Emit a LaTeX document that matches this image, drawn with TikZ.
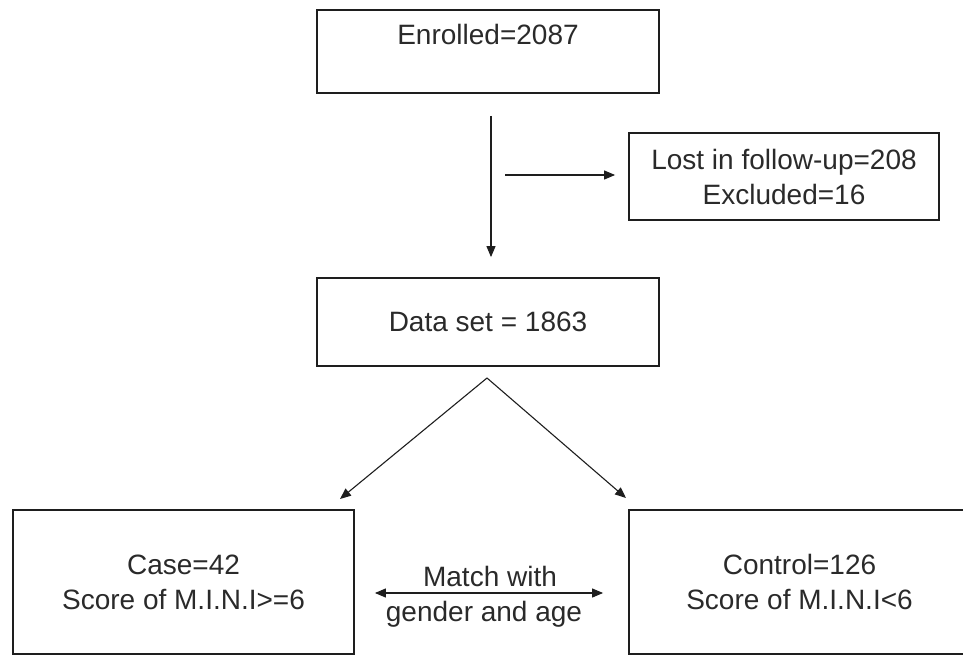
\documentclass[tikz,border=0pt]{standalone}
\usepackage{fontspec}
\setmainfont{Liberation Sans}
\usetikzlibrary{arrows.meta}
\definecolor{ink}{HTML}{1E1E1E}
\definecolor{txt}{HTML}{2A2A2A}
\begin{document}
\begin{tikzpicture}[x=1pt,y=-1pt,
  box/.style={draw=ink, line width=1.8pt, inner sep=0pt, align=center,
    font=\fontsize{28}{35}\selectfont, text=txt},
  lbl/.style={inner sep=0pt, font=\fontsize{28}{35}\selectfont, text=txt},
  arr/.style={line width=1.1pt, draw=ink, -{Triangle[length=11pt,width=9pt]}},
  darr/.style={line width=1.1pt, draw=ink, {Triangle[length=11pt,width=9pt]}-{Triangle[length=11pt,width=9pt]}}]
\useasboundingbox (0,0) rectangle (963,656);
% boxes
\node[box, minimum width=342pt, minimum height=83pt] (enr) at (488,51.5) {Enrolled=2087\\\mbox{}};
\node[box, minimum width=310pt, minimum height=87pt] (lost) at (784,176.5) {Lost in follow-up=208\\Excluded=16};
\node[box, minimum width=342pt, minimum height=88pt] (data) at (488,322) {Data set = 1863};
\node[box, minimum width=341pt, minimum height=144pt] (case) at (183.5,582) {Case=42\\Score of M.I.N.I>=6};
\node[box, minimum width=341pt, minimum height=144pt] (ctrl) at (799.5,582) {Control=126\\Score of M.I.N.I<6};
% connectors
\draw[arr, shorten <=22pt, shorten >=20pt] ([xshift=3pt]enr.south) -- ([xshift=3pt]data.north);
\coordinate (hs) at (505,175);
\draw[arr, shorten >=13pt] (hs) -- (lost.west |- hs);
\coordinate (apex) at (487,378);
\coordinate (lt) at (340,499);
\coordinate (rt) at (626,498);
\draw[arr] (apex) -- (lt);
\draw[arr] (apex) -- (rt);
\draw[darr, shorten <=20pt, shorten >=25pt] ([yshift=-11pt]case.east) -- ([yshift=-11pt]ctrl.west);
% match label
\node[lbl, anchor=base] (m1) at (490,586) {Match with};
\node[lbl, anchor=base] (m2) at (484,621) {gender and age};
\end{tikzpicture}
\end{document}
